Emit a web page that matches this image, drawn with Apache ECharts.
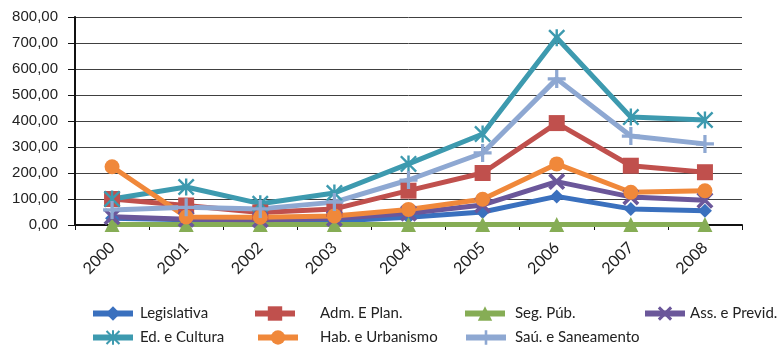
<!DOCTYPE html>
<html><head><meta charset="utf-8">
<script src="https://cdn.jsdelivr.net/npm/echarts@6/dist/echarts.min.js"></script>
<style>html,body{margin:0;padding:0;background:#fff}#c{width:780px;height:347px}</style>
</head><body><div id="c"></div>
<script>
const categories = ['2000','2001','2002','2003','2004','2005','2006','2007','2008'];
const legislativa = [26, 20, 18, 15, 30, 50, 110, 62, 55];
const admPlan = [100, 75, 48, 62, 132, 200, 392, 228, 203];
const segPub = [2, 2, 2, 2, 2, 2, 2, 2, 2];
const assPrevid = [32, 22, 20, 25, 45, 77, 167, 108, 95];
const edCultura = [100, 146, 82, 123, 235, 350, 720, 415, 404];
const habUrbanismo = [224, 31, 30, 35, 60, 99, 235, 126, 132];
const sauSaneamento = [58, 68, 62, 88, 173, 277, 562, 342, 312];
const yTicks = [0, 100, 200, 300, 400, 500, 600, 700, 800];

const X_PATH = 'path://M1.5,0L5,3.5L8.5,0L10,1.5L6.5,5L10,8.5L8.5,10L5,6.5L1.5,10L0,8.5L3.5,5L0,1.5Z';
const AST_PATH = 'path://M1,0L5,4L9,0L10,1L6,5L10,9L9,10L5,6L1,10L0,9L4,5L0,1Z M4.3,0H5.7V10H4.3Z';
const PLUS_PATH = 'path://M4.1,0H5.9V4.1H10V5.9H5.9V10H4.1V5.9H0V4.1H4.1Z';

const defs = [
  {name:'Legislativa', data:legislativa, color:'#3A70BE', symbol:'diamond', size:14},
  {name:'Adm. E Plan.', data:admPlan, color:'#C0504D', symbol:'rect', size:16},
  {name:'Seg. Púb.', data:segPub, color:'#86AD55', symbol:'triangle', size:15},
  {name:'Ass. e Previd.', data:assPrevid, color:'#6B579A', symbol:X_PATH, size:17},
  {name:'Ed. e Cultura', data:edCultura, color:'#3D9AAF', symbol:AST_PATH, size:17},
  {name:'Hab. e Urbanismo', data:habUrbanismo, color:'#F0883A', symbol:'circle', size:15},
  {name:'Saú. e Saneamento', data:sauSaneamento, color:'#8EA8D2', symbol:PLUS_PATH, size:18}
];

const legendPos = [
  {left:90, top:306, pad:2},
  {left:252, top:306, pad:20},
  {left:462, top:306, pad:5},
  {left:642, top:306, pad:0},
  {left:90, top:330, pad:2},
  {left:255, top:330, pad:17},
  {left:463, top:330, pad:4}
];

const font = 'Lato, "Open Sans", sans-serif';
const chart = echarts.init(document.getElementById('c'));
chart.setOption({
  animation:false,
  textStyle:{fontFamily:font},
  grid:{left:75, right:38, top:17, bottom:122},
  legend: defs.map((d,i)=>({
    data:[d.name], left:legendPos[i].left, top:legendPos[i].top,
    itemWidth:40, itemHeight:18, padding:0,
    lineStyle:{width:6},
    textStyle:{fontSize:15, color:'#222', fontFamily:font, padding:[0,0,0,legendPos[i].pad]}
  })),
  xAxis:{
    type:'category', data:categories, boundaryGap:true,
    axisLine:{lineStyle:{color:'#111', width:2}},
    axisTick:{show:true, length:5, lineStyle:{color:'#111'}},
    axisLabel:{rotate:45, fontSize:16, color:'#222', margin:20, fontFamily:font}
  },
  yAxis:{
    type:'value', min:yTicks[0], max:yTicks[yTicks.length-1], interval:100,
    axisLine:{show:true, lineStyle:{color:'#111', width:2}},
    axisTick:{show:true, length:7, lineStyle:{color:'#111'}},
    splitLine:{lineStyle:{color:'#404040', width:1}},
    axisLabel:{fontSize:15, color:'#222', margin:17, fontFamily:'"Liberation Sans", Arial, sans-serif',
      formatter:v=>v.toFixed(2).replace('.',',')}
  },
  series: defs.map(d=>({
    type:'line', name:d.name, data:d.data,
    symbol:d.symbol, symbolSize:d.size,
    lineStyle:{color:d.color, width:5},
    itemStyle:{color:d.color},
    z:2
  }))
});
</script></body></html>
